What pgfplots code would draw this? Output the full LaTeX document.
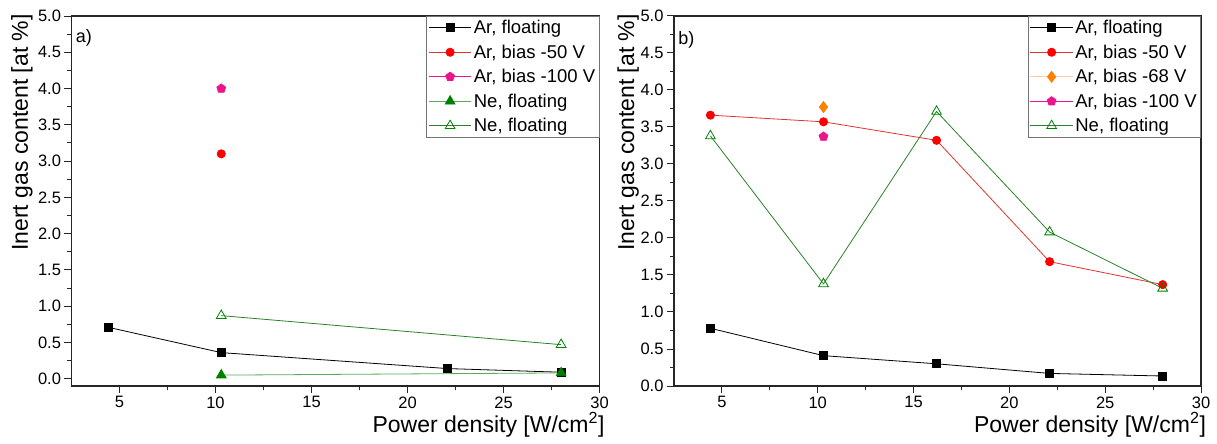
\documentclass[border=0pt]{standalone}
\usepackage{fontspec}
\setmainfont{Liberation Sans}
\usepackage{pgfplots}
\pgfplotsset{compat=1.18}
\usetikzlibrary{plotmarks}
\definecolor{myred}{RGB}{255,0,0}
\definecolor{lred}{RGB}{225,50,50}
\definecolor{mypink}{RGB}{235,20,140}
\definecolor{myorange}{RGB}{255,128,0}
\definecolor{lorange}{RGB}{255,205,160}
\definecolor{mygreen}{RGB}{0,128,0}
\definecolor{lgreen}{RGB}{90,170,90}
\definecolor{dgreen}{RGB}{40,130,40}

\pgfplotsset{
  mystyle/.style={
    scale only axis, width=528pt, height=370pt,
    xmin=2.5, xmax=30, ymax=5,
    xtick={5,10,...,30}, ytick={0,0.5,...,5},
    minor x tick num=1, minor y tick num=1,
    tick align=outside, xtick pos=bottom, ytick pos=left,
    major tick length=7pt, minor tick length=4pt,
    axis line style={line width=1.1pt, black!85},
    every tick/.style={black!85, line width=1pt},
    tick label style={font=\fontsize{16.5}{19}\selectfont},
    /pgf/number format/assume math mode=true,
    yticklabel style={/pgf/number format/.cd, fixed, fixed zerofill, precision=1},
    label style={font=\fontsize{23}{27}\selectfont},
    xlabel={Power density [W/cm\textsuperscript{2}]},
    ylabel={Inert gas content [at \%]},
    xlabel style={at={(axis description cs:1.016,-0.127)}, anchor=base east},
    legend style={at={(rel axis cs:1,1)}, anchor=north east, draw=black!55, line width=0.6pt,
      font=\fontsize{18.5}{20}\selectfont, inner xsep=2pt, inner ysep=2pt, row sep=5.6pt},
    legend cell align=left,
    legend image code/.code={\draw[mark repeat=2,mark phase=2] plot coordinates {(0cm,0cm) (0.75cm,0cm) (1.5cm,0cm)};},
    every axis plot/.append style={line width=0.8pt},
  }
}

\begin{document}
\begin{tikzpicture}
\path[use as bounding box] (0,0) rectangle (1217pt,444pt);

% Panel a
\begin{axis}[mystyle, at={(71.5pt,58pt)}, anchor=south west, ymin=-0.1,
  ylabel style={at={(axis description cs:-0.094,0.685)}, anchor=center}]
\addplot[black, mark=square*, mark size=4pt, mark options={fill=black, draw=black}]
  coordinates {(4.4,0.71) (10.3,0.36) (22.1,0.14) (28,0.09)};
\addlegendentry{Ar, floating}
\addplot[lred, mark=*, mark size=4.1pt, mark options={fill=myred, draw=myred}]
  coordinates {(10.3,3.10)};
\addlegendentry{Ar, bias -50 V}
\addplot[mypink, mark=pentagon*, mark size=4.6pt, mark options={fill=mypink, draw=mypink}]
  coordinates {(10.3,4.00)};
\addlegendentry{Ar, bias -100 V}
\addplot[lgreen, mark=triangle*, mark size=5.6pt, mark options={fill=mygreen, draw=mygreen}]
  coordinates {(10.3,0.05) (28,0.08)};
\addlegendentry{Ne, floating}
\addplot[dgreen, mark=triangle, mark size=5.6pt, mark options={fill=white, draw=mygreen}]
  coordinates {(10.3,0.87) (28,0.47)};
\addlegendentry{Ne, floating}
\node[anchor=north west, font=\fontsize{18}{20}\selectfont, inner sep=0pt] at (axis description cs:0.008,0.965) {a)};
\end{axis}

% Panel b
\begin{axis}[mystyle, at={(674pt,58pt)}, anchor=south west, width=527pt, ymin=0,
  ylabel style={at={(axis description cs:-0.087,0.685)}, anchor=center}]
\addplot[black, mark=square*, mark size=4pt, mark options={fill=black, draw=black}]
  coordinates {(4.4,0.78) (10.3,0.41) (16.2,0.30) (22.1,0.17) (28,0.135)};
\addlegendentry{Ar, floating}
\addplot[lred, mark=*, mark size=4.1pt, mark options={fill=myred, draw=myred}]
  coordinates {(4.4,3.66) (10.3,3.57) (16.2,3.32) (22.1,1.68) (28,1.37)};
\addlegendentry{Ar, bias -50 V}
\addplot[lorange, mark=diamond*, mark size=5.5pt, mark options={fill=myorange, draw=myorange}]
  coordinates {(10.3,3.77)};
\addlegendentry{Ar, bias -68 V}
\addplot[mypink, mark=pentagon*, mark size=4.6pt, mark options={fill=mypink, draw=mypink}]
  coordinates {(10.3,3.37)};
\addlegendentry{Ar, bias -100 V}
\addplot[dgreen, mark=triangle, mark size=5.6pt, mark options={fill=white, draw=mygreen}]
  coordinates {(4.4,3.38) (10.3,1.38) (16.2,3.71) (22.1,2.08) (28,1.32)};
\addlegendentry{Ne, floating}
\node[anchor=north west, font=\fontsize{18}{20}\selectfont, inner sep=0pt] at (axis description cs:0.008,0.96) {b)};
\end{axis}
\end{tikzpicture}
\end{document}
